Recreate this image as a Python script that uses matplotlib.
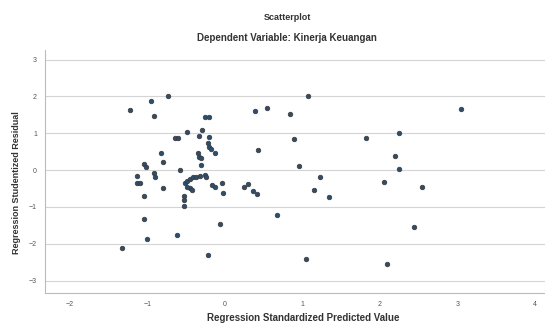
import matplotlib.pyplot as plt

# regression standardized predicted value (x) / studentized residual (y)
pred = [-1.23, -0.96, -0.92, -0.73, 0.39, 0.54, 0.84, 1.07, 3.04,
        -0.49, -0.30, -0.26, -0.21, -0.64, -0.61, -0.34, -0.20,
        -0.22, -0.20, -0.18, -0.13, -0.35, -0.33, -0.31, -0.31,
        -0.83, -0.80, -1.04, -1.02, -0.58, 0.43, 0.89, 0.96, 1.82, 2.24, 2.19, 2.24,
        -1.14, -1.14, -1.10, -0.92, -0.90, -0.80, -1.04,
        -0.52, -0.49, -0.45, -0.41, -0.37, -0.32, -0.26, -0.24, -0.45, -0.42, -0.49,
        -0.53, -0.53, -0.53, -0.17, -0.13, -0.04, -0.03,
        0.24, 0.30, 0.36, 0.41, 1.23, 1.15, 1.34, 2.05, 2.54,
        0.67, -1.05, -0.06, -0.62, -1.01, -1.33, -0.22, 2.44, 1.05, 2.09]
resid = [1.63, 1.88, 1.46, 2.02, 1.60, 1.68, 1.52, 2.01, 1.65,
         1.03, 1.09, 1.43, 1.43, 0.88, 0.87, 0.92, 0.89,
         0.73, 0.63, 0.57, 0.45, 0.45, 0.36, 0.32, 0.14,
         0.47, 0.21, 0.16, 0.07, 0.00, 0.54, 0.83, 0.12, 0.88, 1.02, 0.39, 0.02,
         -0.17, -0.36, -0.36, -0.09, -0.20, -0.48, -0.71,
         -0.36, -0.29, -0.23, -0.18, -0.18, -0.16, -0.14, -0.20, -0.50, -0.54, -0.45,
         -0.71, -0.80, -0.97, -0.41, -0.47, -0.34, -0.61,
         -0.45, -0.38, -0.56, -0.65, -0.18, -0.53, -0.72, -0.32, -0.47,
         -1.22, -1.33, -1.47, -1.77, -1.86, -2.11, -2.32, -1.54, -2.42, -2.54]

xticks = [-2, -1, 0, 1, 2, 3, 4]
yticks = [-3, -2, -1, 0, 1, 2, 3]

plt.rcParams['font.family'] = ['Liberation Sans', 'DejaVu Sans']

fig = plt.figure(figsize=(5.45, 3.27), dpi=100)
ax = fig.add_axes([0.083, 0.105, 0.917, 0.742])

ax.scatter(pred, resid, s=11, facecolor='#2f4d6a', edgecolor='#3a3a3a',
           linewidth=0.5, zorder=3)

ax.set_xlim(-2.32, 4.13)
ax.set_ylim(-3.33, 3.26)
ax.set_xticks(xticks)
ax.set_yticks(yticks)
ax.tick_params(length=0, labelsize=5, labelcolor='#555555', pad=6)
ax.grid(axis='y', color='#d4d4d4', linewidth=0.8)
ax.set_axisbelow(True)
for side in ['top', 'right']:
    ax.spines[side].set_visible(False)
for side in ['left', 'bottom']:
    ax.spines[side].set_color('#bbbbbb')
    ax.spines[side].set_linewidth(0.8)

fig.text(0.527, 0.945, 'Scatterplot', ha='center', va='center',
         fontsize=6.5, fontweight='bold', color='#333333')
fig.text(0.527, 0.884, 'Dependent Variable: Kinerja Keuangan', ha='center',
         va='center', fontsize=7, fontweight='bold', color='#333333')
fig.text(0.556, 0.027, 'Regression Standardized Predicted Value', ha='center',
         va='center', fontsize=7, fontweight='bold', color='#333333')
fig.text(0.031, 0.44, 'Regression Studentized Residual', ha='center',
         va='center', rotation=90, fontsize=6.5, fontweight='bold', color='#333333')

fig.savefig('out.png', dpi=100)
